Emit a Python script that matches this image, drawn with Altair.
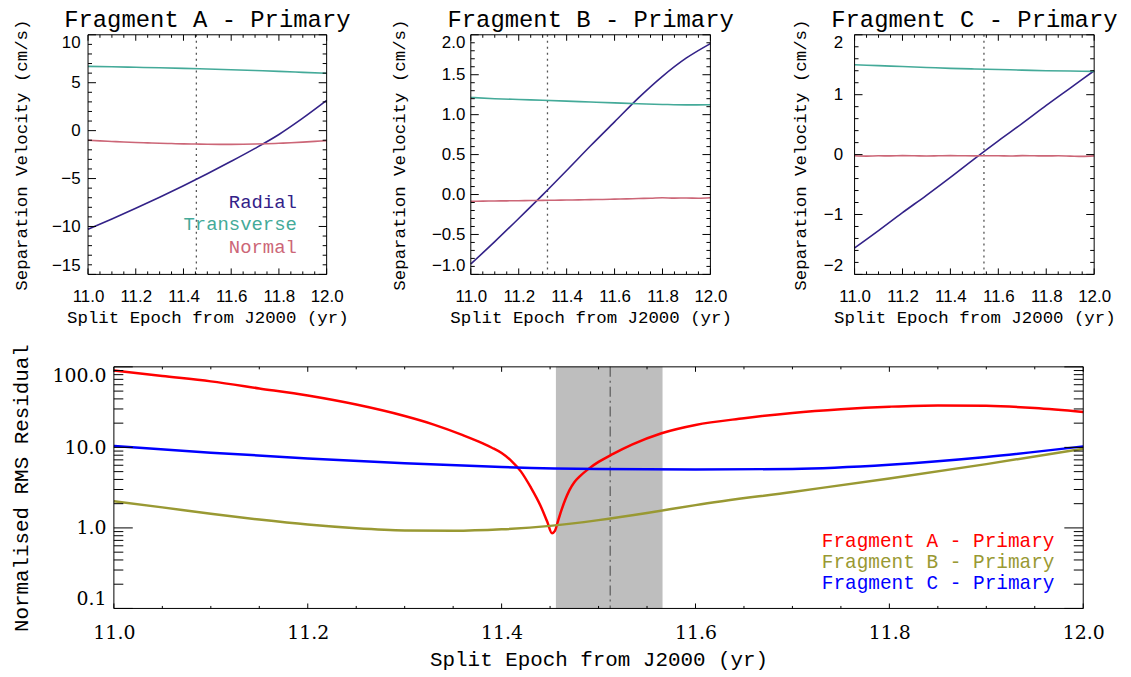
import altair as alt
import pandas as pd

# ---------------- data ----------------
EPOCH = [11.0, 11.1, 11.2, 11.3, 11.4, 11.5, 11.6, 11.7, 11.8, 11.9, 12.0]
EPOCH_FINE = [11.0, 11.05, 11.1, 11.15, 11.2, 11.25, 11.3, 11.35, 11.4, 11.45, 11.5,
              11.55, 11.6, 11.65, 11.7, 11.75, 11.8, 11.85, 11.9, 11.95, 12.0]

COMPONENTS = ["Radial", "Transverse", "Normal"]
COMP_COLORS = ["#332288", "#44AA99", "#CC6677"]

A_RADIAL = [-10.30, -9.22, -8.10, -6.95, -5.75, -4.50, -3.20, -1.85, -0.40, 1.30, 3.15]
A_TRANSVERSE = [6.70, 6.66, 6.61, 6.56, 6.50, 6.43, 6.36, 6.27, 6.18, 6.08, 5.98]
A_NORMAL = [-1.00, -1.07, -1.13, -1.19, -1.24, -1.28, -1.32, -1.35, -1.38, -1.40, -1.42,
            -1.43, -1.43, -1.42, -1.40, -1.37, -1.32, -1.27, -1.20, -1.12, -1.04]
A_SPLIT = 11.454

B_RADIAL = [-0.87, -0.59, -0.30, -0.005, 0.30, 0.61, 0.91, 1.21, 1.48, 1.71, 1.89]
B_TRANSVERSE = [1.215, 1.20, 1.19, 1.18, 1.17, 1.158, 1.147, 1.137, 1.128, 1.122, 1.125]
B_NORMAL = [-0.085, -0.083, -0.081, -0.079, -0.077, -0.075, -0.073, -0.071, -0.069, -0.067, -0.064,
            -0.062, -0.058, -0.055, -0.050, -0.047, -0.040, -0.045, -0.043, -0.046, -0.040]
B_SPLIT = 11.32

C_RADIAL = [-1.56, -1.27, -0.97, -0.68, -0.38, -0.07, 0.23, 0.52, 0.82, 1.11, 1.40]
C_TRANSVERSE = [1.50, 1.485, 1.47, 1.455, 1.44, 1.43, 1.42, 1.41, 1.40, 1.395, 1.39]
C_NORMAL = [-0.020, -0.025, -0.020, -0.022, -0.018, -0.020, -0.023, -0.020, -0.017, -0.020, -0.022,
            -0.019, -0.020, -0.024, -0.018, -0.020, -0.022, -0.020, -0.025, -0.030, -0.022]
C_SPLIT = 11.54

FRAGMENTS = ["Fragment A - Primary", "Fragment B - Primary", "Fragment C - Primary"]
FRAG_COLORS = ["#ff0000", "#999933", "#0000ff"]

RMS_A_X = [11.0, 11.05, 11.1, 11.15, 11.2, 11.25, 11.3, 11.33, 11.36, 11.38, 11.39, 11.40, 11.41,
           11.42, 11.43, 11.44, 11.447, 11.452, 11.455, 11.458, 11.462, 11.466, 11.47, 11.475,
           11.48, 11.49, 11.5, 11.515, 11.535, 11.565, 11.6, 11.65, 11.7, 11.75, 11.8, 11.85,
           11.9, 11.95, 12.0]
RMS_A = [90, 77, 66, 54, 44, 34, 24.5, 19.2, 14.2, 11.3, 9.9, 8.5, 6.8, 5.0, 3.2, 1.9, 1.2, 0.86,
         0.92, 1.2, 1.7, 2.3, 2.95, 3.7, 4.3, 5.45, 6.6, 8.3, 10.9, 15.0, 19.0, 23.0, 26.8, 29.8,
         32.0, 33.2, 32.8, 30.8, 27.5]
RMS_B_X = [11.0, 11.05, 11.1, 11.15, 11.2, 11.25, 11.3, 11.35, 11.4, 11.45, 11.5, 11.55, 11.6,
           11.7, 11.8, 11.9, 12.0]
RMS_B = [2.15, 1.8, 1.5, 1.27, 1.1, 0.99, 0.93, 0.92, 0.96, 1.06, 1.25, 1.53, 1.92, 2.8, 4.1, 6.2, 9.6]
RMS_C_X = EPOCH
RMS_C = [10.4, 8.6, 7.3, 6.35, 5.7, 5.38, 5.3, 5.4, 6.1, 7.6, 10.3]
BAND = [11.456, 11.566]
BEST = 11.512

X_MAJOR = [11.0, 11.2, 11.4, 11.6, 11.8, 12.0]
X_MINOR = [11.05, 11.1, 11.15, 11.25, 11.3, 11.35, 11.45, 11.5, 11.55, 11.65, 11.7, 11.75,
           11.85, 11.9, 11.95]
A_Y_MAJOR = [-15, -10, -5, 0, 5, 10]
A_Y_MINOR = [-14, -13, -12, -11, -9, -8, -7, -6, -4, -3, -2, -1, 1, 2, 3, 4, 6, 7, 8, 9]
B_Y_MAJOR = [-1.0, -0.5, 0.0, 0.5, 1.0, 1.5, 2.0]
B_Y_MINOR = [-0.9, -0.8, -0.7, -0.6, -0.4, -0.3, -0.2, -0.1, 0.1, 0.2, 0.3, 0.4, 0.6, 0.7, 0.8, 0.9,
             1.1, 1.2, 1.3, 1.4, 1.6, 1.7, 1.8, 1.9]
C_Y_MAJOR = [-2, -1, 0, 1, 2]
C_Y_MINOR = [-1.8, -1.6, -1.4, -1.2, -0.8, -0.6, -0.4, -0.2, 0.2, 0.4, 0.6, 0.8, 1.2, 1.4, 1.6, 1.8]
LOG_MAJOR = [0.1, 1, 10, 100]
LOG_MINOR = [0.2, 0.3, 0.4, 0.5, 0.6, 0.7, 0.8, 0.9, 2, 3, 4, 5, 6, 7, 8, 9,
             20, 30, 40, 50, 60, 70, 80, 90]

MONO = "Liberation Mono"
SANS = "Liberation Sans"
SERIF = "DejaVu Serif"


def box_and_ticks(W, H, xs, ys, xmaj, xmin, ymaj, ymin, xlen, ylen, x0=0):
    layers = []
    one = pd.DataFrame({"k": [0]})
    layers.append(alt.Chart(one).mark_rect(fillOpacity=0, stroke="black", strokeWidth=1).encode(
        x=alt.value(x0), x2=alt.value(W), y=alt.value(0), y2=alt.value(H)))
    for vals, L in ((xmaj, xlen), (xmin, xlen / 2)):
        d = pd.DataFrame({"t": vals})
        ex = alt.X("t:Q", scale=xs)
        layers.append(alt.Chart(d).mark_rule(color="black", strokeWidth=1).encode(
            x=ex, y=alt.value(H), y2=alt.value(H - L)))
        layers.append(alt.Chart(d).mark_rule(color="black", strokeWidth=1).encode(
            x=ex, y=alt.value(0), y2=alt.value(L)))
    for vals, L in ((ymaj, ylen), (ymin, ylen / 2)):
        d = pd.DataFrame({"t": vals})
        ey = alt.Y("t:Q", scale=ys)
        layers.append(alt.Chart(d).mark_rule(color="black", strokeWidth=1).encode(
            y=ey, x=alt.value(x0), x2=alt.value(x0 + L)))
        layers.append(alt.Chart(d).mark_rule(color="black", strokeWidth=1).encode(
            y=ey, x=alt.value(W), x2=alt.value(W - L)))
    return layers


def top_panel(title, rad, tra, nor, ydom, ymaj, ymin, yfmt, split, title_x, lab_pad, W, legend=False):
    H = 241
    xs = alt.Scale(domain=[11.0, 12.0], nice=False, zero=False)
    ys = alt.Scale(domain=ydom, nice=False, zero=False)
    df = pd.concat([
        pd.DataFrame({"epoch": EPOCH, "vel": rad, "comp": "Radial"}),
        pd.DataFrame({"epoch": EPOCH, "vel": tra, "comp": "Transverse"}),
        pd.DataFrame({"epoch": EPOCH_FINE, "vel": nor, "comp": "Normal"}),
    ])
    xaxis = alt.Axis(values=X_MAJOR, format=".1f", title="Split Epoch from J2000 (yr)",
                     ticks=False, domain=False, grid=False,
                     labelFont=SANS, labelFontSize=17, labelColor="black", labelPadding=14,
                     labelFlush=False, labelOverlap=False,
                     titleFont=MONO, titleFontSize=17.5, titleFontWeight="normal", titleColor="black",
                     titleY=48, titleBaseline="alphabetic")
    yaxis = alt.Axis(values=ymaj, format=yfmt, title="Separation Velocity (cm/s)",
                     ticks=False, domain=False, grid=False,
                     labelFont=SANS, labelFontSize=17, labelColor="black", labelPadding=lab_pad,
                     labelFlush=True, labelOverlap=False,
                     titleFont=MONO, titleFontSize=17.5, titleFontWeight="normal", titleColor="black",
                     titleX=title_x, titleY=H / 2, titleAngle=270, titleAlign="center",
                     titleBaseline="middle")
    vline = alt.Chart(pd.DataFrame({"e": [split]})).mark_rule(
        color="#555555", strokeWidth=1.3, strokeDash=[2, 4]).encode(
        x=alt.X("e:Q", scale=xs))
    lines = alt.Chart(df).mark_line(strokeWidth=1.6, interpolate="monotone").encode(
        x=alt.X("epoch:Q", scale=xs, axis=xaxis),
        y=alt.Y("vel:Q", scale=ys, axis=yaxis),
        color=alt.Color("comp:N", scale=alt.Scale(domain=COMPONENTS, range=COMP_COLORS), legend=None),
    )
    head = alt.Chart(pd.DataFrame({"t": [title]})).mark_text(
        align="center", baseline="alphabetic", font=MONO, fontSize=24, color="black").encode(
        x=alt.value(W / 2), y=alt.value(-8), text="t:N")
    layers = [vline, lines] + box_and_ticks(W, H, xs, ys, X_MAJOR, X_MINOR, ymaj, ymin, 6, 8) + [head]
    if legend:
        for name, col, yb in zip(COMPONENTS, COMP_COLORS, [174, 196, 219]):
            layers.append(alt.Chart(pd.DataFrame({"t": [name]})).mark_text(
                align="right", baseline="alphabetic", font=MONO, fontSize=19, color=col).encode(
                x=alt.value(210), y=alt.value(yb), text="t:N"))
    return alt.layer(*layers).properties(width=W, height=H)


panel_a = top_panel(FRAGMENTS[0], A_RADIAL, A_TRANSVERSE, A_NORMAL, [-15, 10], A_Y_MAJOR, A_Y_MINOR,
                    "d", A_SPLIT, -67, 8, 240, legend=True)
panel_b = top_panel(FRAGMENTS[1], B_RADIAL, B_TRANSVERSE, B_NORMAL, [-1, 2], B_Y_MAJOR, B_Y_MINOR,
                    ".1f", B_SPLIT, -72, 6, 241)
panel_c = top_panel(FRAGMENTS[2], C_RADIAL, C_TRANSVERSE, C_NORMAL, [-2, 2], C_Y_MAJOR, C_Y_MINOR,
                    "d", C_SPLIT, -54, 12, 241)

# ---------------- bottom panel ----------------
# the view starts at the top row's left edge; the data range starts X0 px further right
WB, HB, X0 = 1001, 243, 26
xsb = alt.Scale(domain=[11.0, 12.0], range=[X0, WB], nice=False, zero=False)
ysb = alt.Scale(type="log", domain=[0.1, 100], nice=False)
dfr = pd.concat([
    pd.DataFrame({"epoch": RMS_A_X, "rms": RMS_A, "frag": FRAGMENTS[0]}),
    pd.DataFrame({"epoch": RMS_B_X, "rms": RMS_B, "frag": FRAGMENTS[1]}),
    pd.DataFrame({"epoch": RMS_C_X, "rms": RMS_C, "frag": FRAGMENTS[2]}),
])
xaxis_b = alt.Axis(values=X_MAJOR, format=".1f", title="Split Epoch from J2000 (yr)",
                   ticks=False, domain=False, grid=False,
                   labelFont=SERIF, labelFontSize=19, labelColor="black", labelPadding=15,
                   labelFlush=False, labelOverlap=False,
                   titleFont=MONO, titleFontSize=21, titleFontWeight="normal", titleColor="black",
                   titleY=57, titleBaseline="alphabetic")
yaxis_b = alt.Axis(values=LOG_MAJOR, format=".1f", title="Normalised RMS Residual",
                   ticks=False, domain=False, grid=False, offset=-X0,
                   labelFont=SERIF, labelFontSize=19, labelColor="black", labelPadding=8,
                   labelFlush=True, labelOverlap=False,
                   titleFont=MONO, titleFontSize=21, titleFontWeight="normal", titleColor="black",
                   titleX=-93, titleY=HB / 2, titleAngle=270, titleAlign="center",
                   titleBaseline="middle")
band = alt.Chart(pd.DataFrame({"s": [BAND[0]], "e": [BAND[1]]})).mark_rect(color="#bebebe").encode(
    x=alt.X("s:Q", scale=xsb), x2="e:Q", y=alt.value(0), y2=alt.value(HB))
best = alt.Chart(pd.DataFrame({"e": [BEST]})).mark_rule(
    color="#5a5a5a", strokeWidth=1.2, strokeDash=[10, 4, 2, 4]).encode(
    x=alt.X("e:Q", scale=xsb))
rms_lines = alt.Chart(dfr).mark_line(strokeWidth=2.5, interpolate="monotone").encode(
    x=alt.X("epoch:Q", scale=xsb, axis=xaxis_b),
    y=alt.Y("rms:Q", scale=ysb, axis=yaxis_b),
    color=alt.Color("frag:N", scale=alt.Scale(domain=FRAGMENTS, range=FRAG_COLORS), legend=None),
)
blayers = [band, best, rms_lines] + box_and_ticks(WB, HB, xsb, ysb, X_MAJOR, X_MINOR,
                                                  LOG_MAJOR, LOG_MINOR, 5, 19, x0=X0)
for name, col, yb in zip(FRAGMENTS, FRAG_COLORS, [181, 202, 223]):
    blayers.append(alt.Chart(pd.DataFrame({"t": [name]})).mark_text(
        align="right", baseline="alphabetic", font=MONO, fontSize=19.5, color=col).encode(
        x=alt.value(X0 + 946), y=alt.value(yb), text="t:N"))
bottom = alt.layer(*blayers).properties(width=WB, height=HB)

top_row = alt.hconcat(panel_a, panel_b, panel_c, spacing=145, bounds="flush")
chart = alt.vconcat(top_row, bottom, spacing=17).resolve_scale(color="independent").properties(
    padding={"left": 1.5, "top": -2, "right": 5, "bottom": 5}, background="white"
).configure_view(strokeOpacity=0)

chart.save("out.html", embed_options={"renderer": "svg", "actions": False})
